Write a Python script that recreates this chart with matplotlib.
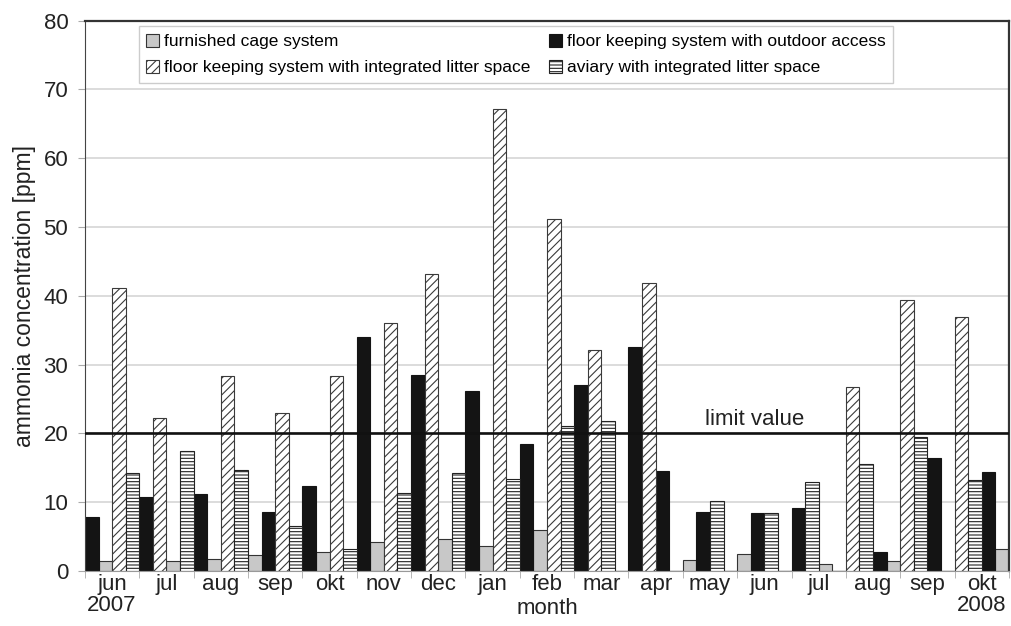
import matplotlib
matplotlib.use("Agg")
from matplotlib import pyplot as plt
import numpy as np

plt.rcParams['font.family'] = ['Liberation Sans', 'DejaVu Sans']
plt.rcParams['hatch.linewidth'] = 0.8

months = ["jun\n2007", "jul", "aug", "sep", "okt", "nov", "dec", "jan", "feb",
          "mar", "apr", "may", "jun", "jul", "aug", "sep", "okt\n2008"]

# which system sits in each of the 4 bar slots of a month ('.' = no bar)
# G furnished cage, O floor/outdoor, L floor/litter, A aviary
slot_codes = ["OGLA", "OLGA", "OGLA", "GOLA", "OGLA", "OGLA", "OLGA", "OGLA", "OGLA",
              "OLA.", "OLO.", "GOA.", "GOA.", "OAG.", "LAOG", "LAO.", "LAOG"]

slot_values = [
    [7.8, 1.5, 41.1, 14.2],
    [10.7, 22.2, 1.5, 17.4],
    [11.2, 1.8, 28.3, 14.7],
    [2.3, 8.6, 22.9, 6.5],
    [12.3, 2.7, 28.3, 3.2],
    [34.0, 4.2, 36.0, 11.3],
    [28.5, 43.1, 4.6, 14.2],
    [26.2, 3.6, 67.1, 13.4],
    [18.4, 6.0, 51.1, 21.0],
    [27.0, 32.1, 21.8, None],
    [32.5, 41.9, 14.5, None],
    [1.6, 8.6, 10.2, None],
    [2.5, 8.4, 8.4, None],
    [9.2, 12.9, 1.0, None],
    [26.8, 15.6, 2.8, 1.5],
    [39.4, 19.5, 16.4, None],
    [36.9, 13.2, 14.4, 3.2],
]

series_names = {
    "G": "furnished cage system",
    "O": "floor keeping system with outdoor access",
    "L": "floor keeping system with integrated litter space",
    "A": "aviary with integrated litter space",
}
limit_value = 20

styles = {
    "G": dict(color="#c8c8c8", edgecolor="#333333"),
    "O": dict(color="#141414", edgecolor="#141414"),
    "L": dict(color="white", edgecolor="#3a3a3a", hatch="////"),
    "A": dict(color="white", edgecolor="#222222", hatch="-----"),
}

fig = plt.figure(figsize=(10.11, 6.26), dpi=100)
ax = fig.add_axes([0.084, 0.088, 0.914, 0.879])

width = 0.25
offsets = [-0.375, -0.125, 0.125, 0.375]
handles = {}
for code in "GOLA":
    xs, hs = [], []
    for i, (codes, vals) in enumerate(zip(slot_codes, slot_values)):
        for s, c in enumerate(codes):
            if c == code and vals[s] is not None:
                xs.append(i + offsets[s])
                hs.append(vals[s])
    handles[code] = ax.bar(xs, hs, width, linewidth=0.8, zorder=2,
                           label=series_names[code], **styles[code])

ax.axhline(limit_value, color="#111111", lw=1.9, zorder=3)
ax.text(11.82, limit_value + 0.45, "limit value", ha="center", va="bottom",
        fontsize=16, color="#222222")

ax.set_xlim(-0.5, len(months) - 0.5)
ax.set_ylim(0, 80)
ax.set_yticks(np.arange(0, 81, 10))
ax.yaxis.grid(True, color="#d9d9d9", lw=1.3, zorder=0)
ax.set_axisbelow(True)

ax.set_xticks(np.arange(len(months)))
ax.set_xticklabels(months, linespacing=1.05)
ax.set_xticks(np.arange(len(months) + 1) - 0.5, minor=True)
ax.tick_params(axis="x", which="major", length=0, pad=2, labelsize=16, labelcolor="#222222")
ax.tick_params(axis="x", which="minor", length=5, color="#aaaaaa")
ax.tick_params(axis="y", length=5, color="#aaaaaa", pad=7, labelsize=16, labelcolor="#222222")

for side in ["top", "right"]:
    ax.spines[side].set_color("#333333")
    ax.spines[side].set_linewidth(1.6)
ax.spines["left"].set_color("#444444")
ax.spines["bottom"].set_color("#999999")

ax.set_ylabel("ammonia concentration [ppm]", fontsize=16.5, color="#222222", labelpad=5)
ax.set_xlabel("month", fontsize=16, color="#222222")
ax.xaxis.set_label_coords(0.5, -0.05)

leg = ax.legend([handles[c] for c in "GLOA"], [series_names[c] for c in "GLOA"],
                ncol=2, loc="upper left", bbox_to_anchor=(0.058, 0.99),
                fontsize=12.5, frameon=True, fancybox=False, framealpha=1,
                edgecolor="#cccccc", handlelength=0.75, handleheight=0.75,
                handletextpad=0.25, columnspacing=1.1, labelspacing=0.6,
                borderpad=0.45, borderaxespad=0)
leg.get_frame().set_linewidth(1.0)
leg.set_zorder(5)

fig.savefig("out.png", dpi=100)
